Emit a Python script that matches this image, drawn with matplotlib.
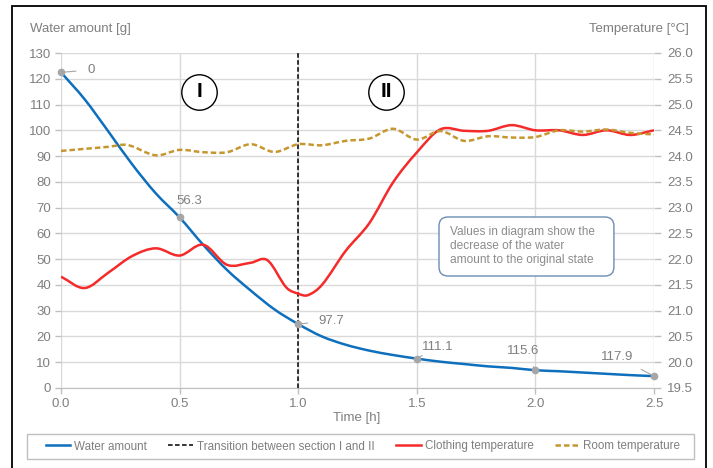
import numpy as np
import matplotlib
matplotlib.use("Agg")
import matplotlib.pyplot as plt
from matplotlib.path import Path
from matplotlib.patches import PathPatch, Rectangle, FancyBboxPatch
from matplotlib.lines import Line2D
from matplotlib.transforms import IdentityTransform

plt.rcParams['font.family'] = ['Liberation Sans', 'DejaVu Sans']

# ---------------- data ----------------
water_t = [0.0, 0.1, 0.2, 0.3, 0.4, 0.5, 0.6, 0.7, 0.8, 0.9, 1.0, 1.1, 1.2, 1.3,
           1.4, 1.5, 1.6, 1.7, 1.8, 1.9, 2.0, 2.1, 2.2, 2.3, 2.4, 2.5]
water_g = [122.5, 112.0, 99.5, 86.8, 75.5, 66.2, 55.5, 45.8, 37.8, 30.5, 24.8,
           20.0, 16.8, 14.5, 12.8, 11.4, 10.2, 9.3, 8.4, 7.8, 6.9, 6.5, 6.0,
           5.5, 5.0, 4.6]

cloth_t = [0.0, 0.1, 0.2, 0.3, 0.4, 0.5, 0.6, 0.7, 0.8, 0.87, 0.95, 1.0, 1.04,
           1.1, 1.2, 1.3, 1.4, 1.5, 1.6, 1.7, 1.8, 1.9, 2.0, 2.1, 2.2, 2.3,
           2.4, 2.5]
cloth_c = [21.66, 21.44, 21.74, 22.06, 22.21, 22.07, 22.28, 21.89, 21.93, 21.98,
           21.45, 21.33, 21.30, 21.50, 22.16, 22.70, 23.49, 24.07, 24.52, 24.49,
           24.49, 24.60, 24.50, 24.50, 24.41, 24.50, 24.41, 24.50]

room_t = [0.0, 0.1, 0.2, 0.28, 0.4, 0.5, 0.6, 0.7, 0.8, 0.9, 1.0, 1.1, 1.2, 1.3,
          1.4, 1.5, 1.6, 1.7, 1.8, 1.9, 2.0, 2.1, 2.2, 2.3, 2.4, 2.5]
room_c = [24.10, 24.14, 24.18, 24.215, 24.015, 24.12, 24.075, 24.075, 24.23,
          24.08, 24.23, 24.21, 24.295, 24.34, 24.53, 24.32, 24.485, 24.295,
          24.385, 24.36, 24.37, 24.50, 24.475, 24.515, 24.45, 24.42]

transition_t = [1.0, 1.0]
transition_g = [0, 130]

label_t = [0.0, 0.5, 1.0, 1.5, 2.0, 2.5]
label_vals = ["0", "56.3", "97.7", "111.1", "115.6", "117.9"]

section_labels = ["I", "II"]
section_t = [0.582, 1.370]
section_g = [114.9, 114.9]

x_ticks = [0.0, 0.5, 1.0, 1.5, 2.0, 2.5]
y_ticks = list(range(0, 131, 10))
y2_ticks = [19.5 + 0.5 * i for i in range(14)]

note_text = "Values in diagram show the\ndecrease of the water\namount to the original state"

# ---------------- colours ----------------
BLUE = '#0E6FBD'
RED = '#F52A2A'
GOLD = '#C6972F'
GRAY_TXT = '#7F7F7F'
GRID = '#D9D9D9'


def smooth_path(xs, ys):
    x = np.asarray(xs, float)
    y = np.asarray(ys, float)
    n = len(x)
    m = np.zeros(n)
    for i in range(n):
        a = max(i - 1, 0)
        b = min(i + 1, n - 1)
        m[i] = (y[b] - y[a]) / (x[b] - x[a])
    verts = [(x[0], y[0])]
    codes = [Path.MOVETO]
    for i in range(n - 1):
        dx = x[i + 1] - x[i]
        verts += [(x[i] + dx / 3, y[i] + m[i] * dx / 3),
                  (x[i + 1] - dx / 3, y[i + 1] - m[i + 1] * dx / 3),
                  (x[i + 1], y[i + 1])]
        codes += [Path.CURVE4] * 3
    return Path(verts, codes)


W, H = 713, 468
fig = plt.figure(figsize=(W / 100, H / 100), dpi=100)
ax = fig.add_axes([61 / W, 1 - 388 / H, (654 - 61) / W, (388 - 53) / H])
ax2 = ax.twinx()

ax.set_xlim(0, 2.5)
ax.set_ylim(0, 130)
ax2.set_ylim(19.5, 26.0)

ax.set_xticks(x_ticks)
ax.set_xticklabels([f"{v:.1f}" for v in x_ticks])
ax.set_yticks(y_ticks)
ax2.set_yticks(y2_ticks)
ax2.set_yticklabels([f"{v:.1f}" for v in y2_ticks])

ax.grid(True, color=GRID, lw=1.0)
ax.set_axisbelow(True)
for a in (ax, ax2):
    for s in a.spines.values():
        s.set_visible(False)
ax.spines['bottom'].set_visible(True)
ax.spines['bottom'].set_color('#BFBFBF')
ax.tick_params(axis='both', colors='#BFBFBF', labelcolor=GRAY_TXT, labelsize=9.5,
               length=4, width=1)
ax.tick_params(axis='x', pad=3.5)
ax.tick_params(axis='y', pad=3)
ax2.tick_params(axis='y', colors='#BFBFBF', labelcolor=GRAY_TXT, labelsize=9.5,
                length=5, width=1, pad=4.5)

# series
ax.add_patch(PathPatch(smooth_path(water_t, water_g), fill=False, ec=BLUE,
                       lw=1.8, capstyle='round', zorder=3))
ax.plot(transition_t, transition_g, color='black', lw=1.1, ls=(0, (3, 1.6)), zorder=3)
ax2.add_patch(PathPatch(smooth_path(cloth_t, cloth_c), fill=False, ec=RED,
                        lw=1.8, zorder=3))
ax2.add_patch(PathPatch(smooth_path(room_t, room_c), fill=False, ec=GOLD,
                        lw=1.8, ls=(0, (2.2, 1.2)), zorder=3))

ax2.set_zorder(ax.get_zorder() + 1)
ax.patch.set_visible(True)
ax2.patch.set_visible(False)

# labelled points
water_at = np.interp(label_t, water_t, water_g)
offsets = [(21.4, 1.7), (7, 11.5), (24, 2.5), (15, 8.5), (-8.5, 14), (-26.6, 14)]
for t, v, lab, off in zip(label_t, water_at, label_vals, offsets):
    y2 = 19.5 + v / 20.0
    ax2.plot([t], [y2], 'o', color='#A6A6A6', ms=4.5, zorder=5, clip_on=False)
    ax2.annotate(lab, xy=(t, y2), xytext=off, textcoords='offset points',
                 ha='center', va='center', color=GRAY_TXT, fontsize=9.5,
                 arrowprops=dict(arrowstyle='-', color='#A6A6A6', lw=0.8,
                                 shrinkA=6, shrinkB=0), zorder=5)

# section circles
for t, g, lab in zip(section_t, section_g, section_labels):
    ax.plot([t], [g], 'o', ms=25.5, mfc='white', mec='black', mew=1.0, zorder=4)
    ax.text(t, g, lab, ha='center', va='center', fontsize=15, fontweight='bold',
            color='black', zorder=5)

# note box (frame in pixels, anchored to data positions)
p0 = ax.transData.transform((1.5936, 43.46))
p1 = ax.transData.transform((2.331, 66.36))
box = FancyBboxPatch((p0[0], p0[1]), p1[0] - p0[0], p1[1] - p0[1],
                     boxstyle='round,pad=0,rounding_size=9', transform=IdentityTransform(),
                     fc='white', ec='#6A8DB3', lw=1.0, zorder=6)
ax2.add_artist(box)
ax2.text(1.640, 55.1 / 20 + 19.5, note_text, ha='left', va='center', fontsize=8.6,
         color='#8C8C8C', linespacing=1.22, zorder=7)

# axis titles
fig.text(30 / W, 1 - 29 / H, "Water amount [g]", ha='left', va='center',
         color=GRAY_TXT, fontsize=9.5)
fig.text(689 / W, 1 - 29 / H, "Temperature [°C]", ha='right', va='center',
         color=GRAY_TXT, fontsize=9.5)
fig.text(357 / W, 1 - 418 / H, "Time [h]", ha='center', va='center',
         color=GRAY_TXT, fontsize=9.5)

# legend
handles = [Line2D([], [], color=BLUE, lw=1.8),
           Line2D([], [], color='black', lw=1.1, ls=(0, (3, 1.6))),
           Line2D([], [], color=RED, lw=1.8),
           Line2D([], [], color=GOLD, lw=1.8, ls=(0, (2.2, 1.2)))]
labels = ["Water amount", "Transition between section I and II",
          "Clothing temperature", "Room temperature"]
leg = fig.legend(handles, labels, loc='center', ncol=4,
                 bbox_to_anchor=(363 / W, 1 - 446.5 / H), frameon=False,
                 fontsize=8.4, handlelength=2.14, handletextpad=0.3,
                 columnspacing=1.85, borderpad=0.3)
for txt in leg.get_texts():
    txt.set_color(GRAY_TXT)
fig.patches.append(Rectangle((27 / W, 1 - 459 / H), (694 - 27) / W, 25 / H,
                             transform=fig.transFigure, fill=False, ec='#BFBFBF',
                             lw=1.0))

# outer frame
fig.patches.append(Rectangle((12 / W, -0.02), (706 - 12) / W, 1 - 6 / H + 0.02,
                             transform=fig.transFigure, fill=False, ec='black',
                             lw=1.3))

fig.savefig("out.png", dpi=100)
